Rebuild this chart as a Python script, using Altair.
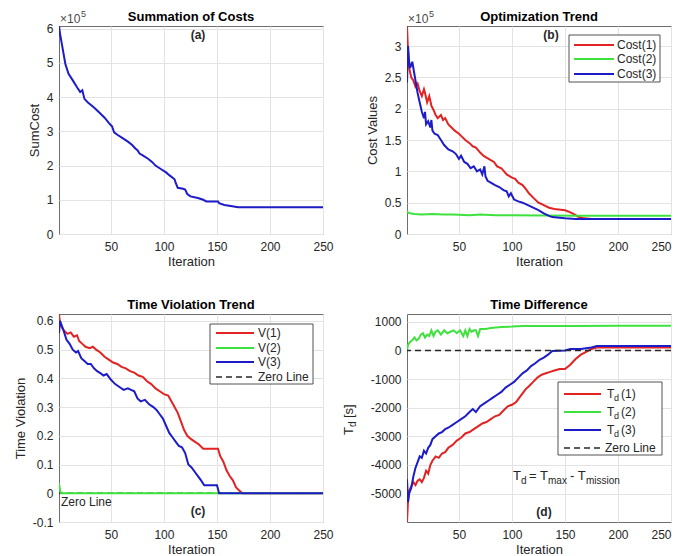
import altair as alt
import pandas as pd

FONT = "Liberation Sans"
PW, PH = 264, 208
RED, GREEN, BLUE = "#e32222", "#3ee23e", "#1c1cc8"
INK = "#262626"
MINUS = "\u2212"

X_TICKS = [50, 100, 150, 200, 250]
ZERO_LEVEL = [0]

# ---------------- (a) Summation of costs (x 1e5) ----------------
A_ITER = [1, 2, 4, 7, 10, 14, 18, 21, 23, 25, 28, 34, 39, 44, 48, 50, 51, 53, 56, 61,
          66, 70, 73, 75, 77, 80, 85, 89, 92, 97, 102, 105, 110, 111, 113, 118, 120, 122, 125, 132,
          137, 140, 151, 152, 157, 163, 170, 250]
A_SUM = [6.08, 5.85, 5.5, 4.97, 4.68, 4.49, 4.29, 4.15, 4.2, 3.95, 3.85, 3.7, 3.55, 3.4, 3.25, 3.18, 3.15, 2.97, 2.9, 2.8,
         2.7, 2.6, 2.5, 2.45, 2.35, 2.3, 2.2, 2.1, 2.0, 1.9, 1.8, 1.72, 1.6, 1.5, 1.35, 1.32, 1.3, 1.17, 1.1, 1.05,
         1.0, 0.95, 0.95, 0.9, 0.85, 0.82, 0.78, 0.78]
A_YTICKS = [0, 1, 2, 3, 4, 5, 6]

# ---------------- (b) Optimization trend (x 1e5) ----------------
B_NAMES = ["Cost(1)", "Cost(2)", "Cost(3)"]
B1_ITER = [1, 2, 3, 5, 7, 9, 11, 13, 15, 17, 18, 20, 22, 24, 26, 28, 30, 33, 35, 37,
           40, 43, 46, 50, 53, 56, 60, 63, 66, 70, 73, 76, 80, 83, 86, 90, 95, 100, 103, 106,
           110, 113, 116, 120, 125, 130, 135, 140, 150, 153, 158, 162, 168, 175, 250]
B1_VAL = [3.32, 2.9, 2.65, 2.5, 2.45, 2.35, 2.4, 2.28, 2.2, 2.31, 2.25, 2.1, 2.2, 2.05, 1.98, 1.9, 1.85, 1.9, 1.82, 1.85,
          1.75, 1.7, 1.65, 1.6, 1.55, 1.5, 1.45, 1.4, 1.38, 1.3, 1.25, 1.22, 1.18, 1.15, 1.08, 1.05, 0.95, 0.9, 0.88, 0.82,
          0.78, 0.72, 0.65, 0.58, 0.5, 0.46, 0.42, 0.4, 0.38, 0.36, 0.32, 0.28, 0.25, 0.24, 0.24]
B2_ITER = [1, 2, 4, 8, 15, 25, 35, 45, 60, 70, 85, 100, 130, 160, 200, 250]
B2_VAL = [0.37, 0.34, 0.33, 0.32, 0.31, 0.32, 0.31, 0.31, 0.3, 0.31, 0.3, 0.3, 0.295, 0.29, 0.29, 0.29]
B3_ITER = [1, 2, 3, 4, 6, 8, 9, 11, 13, 15, 17, 18, 19, 21, 23, 24, 25, 27, 30, 33,
           36, 40, 44, 47, 50, 52, 55, 58, 61, 64, 67, 70, 72, 74, 75, 77, 80, 84, 88, 92,
           95, 97, 99, 102, 106, 110, 115, 120, 125, 130, 135, 138, 150, 160, 250]
B3_VAL = [2.42, 3.0, 2.75, 2.65, 2.75, 2.55, 2.45, 2.25, 2.1, 1.95, 1.85, 1.95, 1.75, 1.8, 1.7, 1.82, 1.65, 1.6, 1.58, 1.5,
          1.42, 1.35, 1.32, 1.28, 1.2, 1.25, 1.15, 1.12, 1.05, 1.08, 1.0, 1.03, 0.95, 1.08, 0.92, 0.85, 0.82, 0.78, 0.75, 0.7,
          0.68, 0.6, 0.65, 0.55, 0.52, 0.5, 0.46, 0.42, 0.38, 0.33, 0.29, 0.27, 0.25, 0.24, 0.24]
B_YTICKS = [0, 0.5, 1, 1.5, 2, 2.5, 3]

# ---------------- (c) Time violation trend ----------------
C_NAMES = ["V(1)", "V(2)", "V(3)"]
C1_ITER = [1, 2, 4, 6, 9, 12, 15, 18, 20, 23, 26, 30, 33, 36, 40, 44, 48, 52, 56, 60,
           64, 68, 72, 76, 80, 84, 88, 92, 96, 100, 104, 107, 110, 113, 116, 119, 122, 125, 129, 133,
           137, 141, 151, 153, 156, 159, 162, 165, 168, 171, 174, 250]
C1_VAL = [0.624, 0.59, 0.575, 0.565, 0.555, 0.56, 0.545, 0.55, 0.53, 0.52, 0.51, 0.505, 0.51, 0.5, 0.49, 0.475, 0.465, 0.455, 0.45, 0.44,
          0.435, 0.425, 0.42, 0.41, 0.405, 0.39, 0.38, 0.365, 0.355, 0.345, 0.34, 0.32, 0.3, 0.28, 0.25, 0.22, 0.2, 0.19, 0.18, 0.17,
          0.155, 0.155, 0.155, 0.13, 0.11, 0.08, 0.06, 0.045, 0.02, 0.01, 0.0, 0.0]
C2_ITER = [1, 2, 3, 250]
C2_VAL = [0.035, 0.01, 0.0, 0.0]
C3_ITER = [1, 2, 3, 5, 8, 11, 14, 17, 19, 22, 25, 28, 31, 34, 37, 40, 43, 46, 50, 54,
           58, 62, 66, 69, 72, 75, 78, 82, 86, 90, 93, 96, 99, 102, 105, 108, 111, 114, 117, 120,
           123, 126, 129, 132, 135, 138, 150, 152, 250]
C3_VAL = [0.557, 0.6, 0.59, 0.57, 0.535, 0.52, 0.5, 0.49, 0.495, 0.47, 0.46, 0.45, 0.45, 0.435, 0.425, 0.418, 0.41, 0.415, 0.395, 0.38,
          0.37, 0.36, 0.365, 0.36, 0.355, 0.33, 0.32, 0.325, 0.31, 0.3, 0.29, 0.275, 0.26, 0.235, 0.21, 0.195, 0.18, 0.165, 0.16, 0.14,
          0.1, 0.09, 0.075, 0.06, 0.045, 0.028, 0.028, 0.0, 0.0]
C_YTICKS = [-0.1, 0, 0.1, 0.2, 0.3, 0.4, 0.5, 0.6]

# ---------------- (d) Time difference [s] ----------------
D_NAMES = ["Td(1)", "Td(2)", "Td(3)"]
D1_ITER = [1, 2, 3, 5, 7, 9, 11, 13, 15, 17, 19, 21, 23, 25, 28, 31, 34, 37, 40, 44,
           48, 52, 56, 60, 64, 68, 72, 76, 80, 84, 88, 92, 96, 100, 104, 107, 110, 113, 116, 120,
           124, 128, 132, 136, 140, 145, 150, 155, 160, 165, 170, 175, 180, 250]
D1_VAL = [-5990, -5200, -4900, -4750, -4600, -4700, -4550, -4500, -4600, -4450, -4200, -4300, -4000, -3850, -3700, -3750, -3600, -3550, -3400, -3300,
          -3150, -3050, -2900, -2850, -2750, -2650, -2550, -2500, -2400, -2300, -2250, -2100, -1950, -1900, -1800, -1650, -1500, -1350, -1250, -1100,
          -950, -850, -800, -750, -700, -650, -650, -500, -300, -150, -50, 50, 100, 100]
D2_ITER = [1, 2, 4, 6, 8, 10, 12, 14, 16, 18, 20, 22, 24, 26, 28, 30, 33, 36, 39, 42,
           45, 48, 51, 54, 56, 58, 60, 62, 64, 66, 68, 70, 75, 80, 90, 100, 110, 130, 160, 200, 250]
D2_VAL = [0, 200, 300, 350, 450, 350, 400, 550, 600, 450, 550, 500, 700, 500, 650, 700, 550, 700, 600, 650,
          700, 600, 700, 500, 700, 500, 750, 650, 700, 700, 500, 750, 750, 780, 820, 830, 850, 850, 850, 860, 860]
D3_ITER = [1, 2, 3, 5, 7, 9, 11, 13, 15, 17, 19, 21, 23, 25, 28, 31, 34, 37, 40, 44,
           48, 52, 56, 60, 63, 66, 70, 74, 78, 82, 86, 90, 94, 98, 102, 106, 110, 114, 118, 122,
           126, 130, 134, 138, 150, 155, 165, 175, 180, 250]
D3_VAL = [-4500, -5300, -5000, -4800, -4400, -4100, -3900, -3700, -3750, -3500, -3600, -3400, -3300, -3100, -3000, -2900, -2850, -2750, -2700, -2600,
          -2500, -2400, -2300, -2150, -2050, -2150, -1950, -1850, -1750, -1650, -1550, -1450, -1300, -1200, -1100, -950, -800, -700, -550, -450,
          -330, -250, -150, -20, 0, 50, 50, 100, 150, 150]
D_YTICKS = [-5000, -4000, -3000, -2000, -1000, 0, 1000]

COLORS = [RED, GREEN, BLUE]
ONE = pd.DataFrame({"k": [0]})
ZERO = pd.DataFrame({"value": ZERO_LEVEL})


def long_frame(series):
    rows = []
    for name, its, vals in series:
        for i, v in zip(its, vals):
            rows.append({"iter": i, "value": v, "series": name})
    return pd.DataFrame(rows)


def xenc(flush):
    return alt.X("iter:Q", scale=alt.Scale(domain=[1, 250], nice=False, zero=False),
                 axis=alt.Axis(values=X_TICKS, title="Iteration", labelFlush=flush,
                               labelOverlap=False, labelPadding=7, titlePadding=3))


def yenc(domain, values, title, fmt):
    expr = "replace(format(datum.value, '%s'), '%s', '-')" % (fmt, MINUS)
    return alt.Y("value:Q", scale=alt.Scale(domain=domain, nice=False, zero=False),
                 axis=alt.Axis(values=values, title=title, labelExpr=expr, labelOverlap=False,
                               labelPadding=6, titlePadding=5))


def lines(df, names, x, y):
    return alt.Chart(df).mark_line(strokeWidth=2, clip=True).encode(
        x=x, y=y,
        color=alt.Color("series:N", scale=alt.Scale(domain=names, range=COLORS), legend=None))


def zero_line(y):
    return alt.Chart(ZERO).mark_rule(color=INK, strokeWidth=1.5, strokeDash=[6, 4]).encode(y=y)


def txt(text, x, y, size=12, weight="normal", align="left", baseline="middle", angle=None, color=INK):
    kw = dict(text=text, font=FONT, fontSize=size, fontWeight=weight, align=align,
              baseline=baseline, color=color)
    if angle is not None:
        kw["angle"] = angle
    return alt.Chart(ONE).mark_text(**kw).encode(x=alt.value(x), y=alt.value(y))


def seg(x1, x2, y, color, dash=None):
    kw = dict(color=color, strokeWidth=2)
    if dash:
        kw["strokeDash"] = dash
        kw["strokeWidth"] = 1.5
    return alt.Chart(ONE).mark_rule(**kw).encode(x=alt.value(x1), x2=alt.value(x2), y=alt.value(y))


def box(x1, x2, y1, y2):
    return alt.Chart(ONE).mark_rect(fill="white", stroke=INK, strokeWidth=0.8).encode(
        x=alt.value(x1), x2=alt.value(x2), y=alt.value(y1), y2=alt.value(y2))


def exponent():
    return [txt("\u00d710", 1, -3, size=12, baseline="alphabetic", color="#4a4a4a"),
            txt("5", 22, -9, size=9, baseline="alphabetic", color="#4a4a4a")]


def heading(t):
    return txt(t, PW / 2, -9, size=13, weight="bold", align="center", color="black")


# ---- panel (a)
df_a = long_frame([("SumCost", A_ITER, A_SUM)])
pa = alt.layer(
    alt.Chart(df_a).mark_line(strokeWidth=2, color=BLUE, clip=True).encode(
        x=xenc(False), y=yenc([0, 6.08], A_YTICKS, "SumCost", "~g")),
    txt("(a)", 139, 9, weight="bold", align="center"),
    *exponent(),
    heading("Summation of Costs"),
).properties(width=PW, height=PH)

# ---- panel (b)
df_b = long_frame([(B_NAMES[0], B1_ITER, B1_VAL), (B_NAMES[1], B2_ITER, B2_VAL), (B_NAMES[2], B3_ITER, B3_VAL)])
leg_b = [box(162, 253, 9, 56)]
for k, yy in enumerate([19, 33, 48]):
    leg_b += [seg(167, 207, yy, COLORS[k]), txt(B_NAMES[k], 210, yy)]
pb = alt.layer(
    lines(df_b, B_NAMES, xenc(True), yenc([0, 3.32], B_YTICKS, "Cost Values", "~g")),
    txt("(b)", 144, 9, weight="bold", align="center"),
    *exponent(),
    heading("Optimization Trend"),
    *leg_b,
).properties(width=PW, height=PH)

# ---- panel (c)
df_c = long_frame([(C_NAMES[0], C1_ITER, C1_VAL), (C_NAMES[1], C2_ITER, C2_VAL), (C_NAMES[2], C3_ITER, C3_VAL)])
y_c = yenc([-0.1, 0.624], C_YTICKS, "Time Violation", "~g")
leg_c = [box(151, 254, 10, 70)]
for k, yy in enumerate([19, 34, 48]):
    leg_c += [seg(157, 195, yy, COLORS[k]), txt(C_NAMES[k], 199, yy)]
leg_c += [seg(157, 195, 63, INK, dash=[6, 4]), txt("Zero Line", 199, 63)]
pc = alt.layer(
    zero_line(y_c),
    lines(df_c, C_NAMES, xenc(False), y_c),
    txt("Zero Line", 2, 188),
    txt("(c)", 139, 197, weight="bold", align="center"),
    heading("Time Violation Trend"),
    *leg_c,
).properties(width=PW, height=PH)

# ---- panel (d)
df_d = long_frame([(D_NAMES[0], D1_ITER, D1_VAL), (D_NAMES[1], D2_ITER, D2_VAL), (D_NAMES[2], D3_ITER, D3_VAL)])
y_d = yenc([-5990, 1270], D_YTICKS, None, "d")
leg_d = [box(151, 255, 68, 141)]
for k, yy in enumerate([80, 98, 116]):
    leg_d += [seg(157, 194, yy, COLORS[k]),
              txt("T", 200, yy),
              txt("d", 207, yy + 4, size=9),
              txt("(%d)" % (k + 1), 214, yy)]
leg_d += [seg(157, 194, 134, INK, dash=[6, 4]), txt("Zero Line", 198, 134)]
formula = [
    txt("T", 106, 166, size=13, baseline="alphabetic"),
    txt("d", 114, 170, size=10, baseline="alphabetic"),
    txt("= T", 122, 166, size=13, baseline="alphabetic"),
    txt("max", 141, 170, size=10, baseline="alphabetic"),
    txt("- T", 163, 166, size=13, baseline="alphabetic"),
    txt("mission", 179, 170, size=10, baseline="alphabetic"),
]
ytitle_d = [
    txt("T", -58, 121, size=13, angle=270),
    txt("d", -54, 113, size=10, angle=270),
    txt("[s]", -58, 104, size=13, angle=270),
]
pd_ = alt.layer(
    lines(df_d, D_NAMES, xenc(True), y_d),
    zero_line(y_d),
    txt("(d)", 137, 198, weight="bold", align="center"),
    heading("Time Difference"),
    *formula,
    *ytitle_d,
    *leg_d,
).properties(width=PW, height=PH)

chart = alt.concat(pa, pb, pc, pd_, columns=2, spacing={"row": 80, "column": 84}, bounds="flush").properties(
    padding={"left": 13, "top": 9, "right": 0, "bottom": 0}
).configure_view(
    stroke="#6e6e6e", strokeWidth=1
).configure_axis(
    grid=True, gridColor="#e3e3e3", gridWidth=1, domain=False, ticks=False, tickSize=0,
    labelOverlap=False,
    labelFont=FONT, labelFontSize=12, labelColor=INK,
    titleFont=FONT, titleFontSize=13, titleFontWeight="normal", titleColor=INK,
)

chart.save("out.html", embed_options={"renderer": "svg", "actions": False})
